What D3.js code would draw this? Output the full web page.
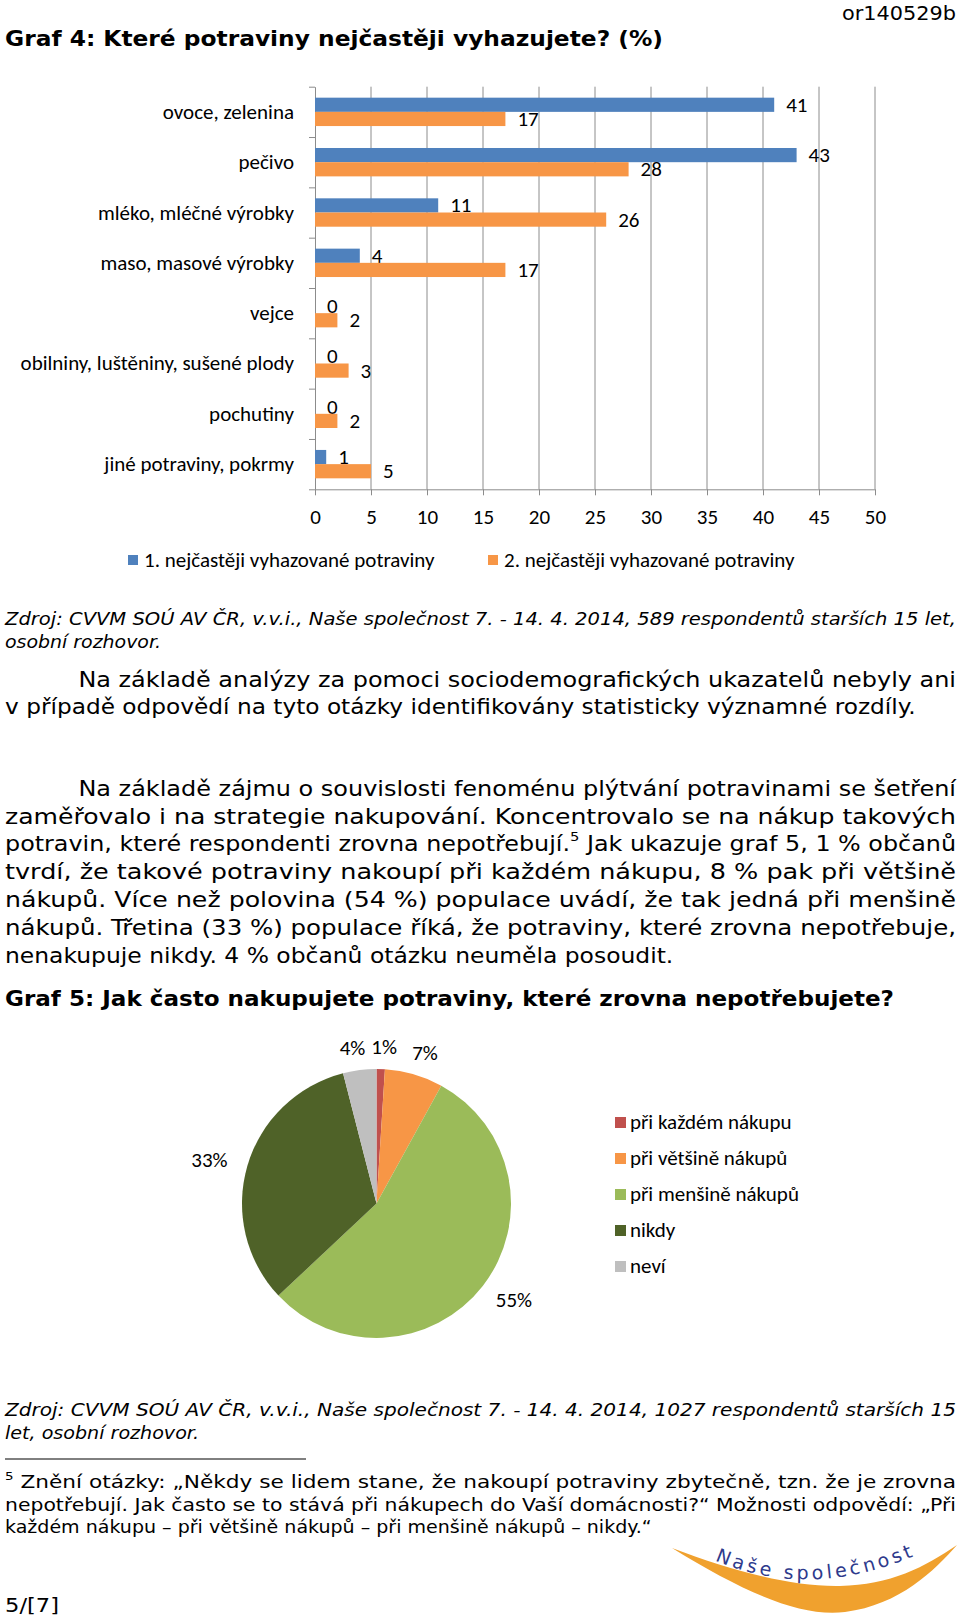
<!DOCTYPE html>
<html><head><meta charset="utf-8">
<script src="https://cdn.jsdelivr.net/npm/d3@7"></script>
<style>body{margin:0;background:#fff} svg{display:block}</style>
</head><body>
<svg id="c" width="960" height="1617"></svg>
<script>
// ---------- data ----------
const categories = ["ovoce, zelenina","pečivo","mléko, mléčné výrobky","maso, masové výrobky","vejce","obilniny, luštěniny, sušené plody","pochutiny","jiné potraviny, pokrmy"];
const seriesNames = ["1. nejčastěji vyhazované potraviny","2. nejčastěji vyhazované potraviny"];
const firstValues = [41,43,11,4,0,0,0,1];
const secondValues = [17,28,26,17,2,3,2,5];
const xTickValues = [0,5,10,15,20,25,30,35,40,45,50];
const barColors = ["#4F81BD","#F79646"];

const pieCategories = ["při každém nákupu","při většině nákupů","při menšině nákupů","nikdy","neví"];
const pieValues = [1,7,55,33,4];
const pieColors = ["#C0504D","#F79646","#9BBB59","#4F6228","#BFBFBF"];

// ---------- helpers ----------
const svg = d3.select("#c");
const CHART_FONT = "Carlito, Lato, sans-serif";
const BODY_FONT = "'DejaVu Sans', Verdana, sans-serif";
const CF = 21;

function line(segs, x1, x2, yc, opt) {
  const t = svg.append("text")
    .attr("x", x1).attr("y", yc)
    .attr("dominant-baseline", "central")
    .attr("font-family", BODY_FONT)
    .attr("font-size", opt.size)
    .attr("font-weight", opt.bold ? "bold" : "normal")
    .attr("font-style", opt.italic ? "italic" : "normal")
    .attr("fill", "#000")
    .attr("textLength", x2 - x1)
    .attr("lengthAdjust", "spacingAndGlyphs");
  (typeof segs === "string" ? [segs] : segs).forEach(s => {
    if (typeof s === "string") t.append("tspan").text(s);
    else t.append("tspan").attr("baseline-shift", "super").attr("font-size", opt.size * 0.62).text(s.sup);
  });
  return t;
}

// ---------- header ----------
line("or140529b", 842, 956, 13, {size: 20});
line("Graf 4: Které potraviny nejčastěji vyhazujete? (%)", 5, 663, 38, {size: 22, bold: true});

// ---------- bar chart ----------
const plotTop = 86.7, plotBottom = 489.3, plotLeft = 315, plotRight = 875;
const x = d3.scaleLinear().domain([0, 50]).range([plotLeft, plotRight]);
const y = d3.scaleBand().domain(categories).range([plotTop, plotBottom]).paddingInner(0.436).paddingOuter(0.218);
const ySub = d3.scaleBand().domain([0, 1]).range([0, y.bandwidth()]);
const gridColor = "#8C8C8C";

const bc = svg.append("g");
bc.append("g").selectAll("line").data(xTickValues.slice(1)).join("line")
  .attr("x1", d => x(d)).attr("x2", d => x(d))
  .attr("y1", plotTop).attr("y2", plotBottom)
  .attr("stroke", gridColor).attr("stroke-width", 1);

const xAxis = bc.append("g").attr("transform", `translate(0,${plotBottom})`)
  .call(d3.axisBottom(x).tickValues(xTickValues).tickSize(6).tickSizeOuter(0));
xAxis.select(".domain").attr("stroke", gridColor);
xAxis.selectAll(".tick line").attr("stroke", gridColor);
xAxis.selectAll(".tick text").attr("y", 27.4).attr("dy", "0.35em")
  .attr("font-family", CHART_FONT).attr("font-size", CF).attr("fill", "#000");

const yLin = d3.scaleLinear().domain([0, categories.length]).range([plotTop, plotBottom]);
const yAxis = bc.append("g").attr("transform", `translate(${plotLeft},0)`)
  .call(d3.axisLeft(yLin).tickValues(d3.range(categories.length + 1)).tickFormat("").tickSize(6).tickSizeOuter(0));
yAxis.select(".domain").attr("stroke", gridColor);
yAxis.selectAll(".tick line").attr("stroke", gridColor);

bc.append("g").selectAll("text").data(categories).join("text")
  .attr("x", plotLeft - 21).attr("y", d => y(d) + y.bandwidth() / 2)
  .attr("text-anchor", "end").attr("dominant-baseline", "central")
  .attr("font-family", CHART_FONT).attr("font-size", CF).attr("fill", "#000")
  .text(d => d);

[firstValues, secondValues].forEach((vals, si) => {
  const g = bc.append("g");
  g.selectAll("rect").data(vals).join("rect")
    .attr("x", x(0)).attr("y", (d, i) => y(categories[i]) + ySub(si))
    .attr("width", d => x(d) - x(0)).attr("height", ySub.bandwidth())
    .attr("fill", barColors[si]);
  g.selectAll("text").data(vals).join("text")
    .attr("x", d => x(d) + 12).attr("y", (d, i) => y(categories[i]) + ySub(si) + ySub.bandwidth() / 2)
    .attr("dominant-baseline", "central")
    .attr("font-family", CHART_FONT).attr("font-size", CF).attr("fill", "#000")
    .text(d => d);
});

// legend
const legX = [128, 488];
seriesNames.forEach((n, i) => {
  svg.append("rect").attr("x", legX[i]).attr("y", 555).attr("width", 10).attr("height", 10).attr("fill", barColors[i]);
  svg.append("text").attr("x", legX[i] + 16).attr("y", 560).attr("dominant-baseline", "central")
    .attr("font-family", CHART_FONT).attr("font-size", CF).attr("fill", "#000").text(n);
});

// ---------- text ----------
const src = {size: 18, italic: true};
line("Zdroj: CVVM SOÚ AV ČR, v.v.i., Naše společnost 7. - 14. 4. 2014, 589 respondentů starších 15 let,", 5, 956, 618, src);
line("osobní rozhovor.", 5, 161, 641, src);

const body = {size: 21};
line("Na základě analýzy za pomoci sociodemografických ukazatelů nebyly ani", 78.4, 956, 679.5, body);
line("v případě odpovědí na tyto otázky identifikovány statisticky významné rozdíly.", 5, 915.6, 707.3, body);

const p2 = [
  [["Na základě zájmu o souvislosti fenoménu plýtvání potravinami se šetření"], 78.4, 956],
  [["zaměřovalo i na strategie nakupování. Koncentrovalo se na nákup takových"], 5, 956],
  [["potravin, které respondenti zrovna nepotřebují.", {sup: "5"}, " Jak ukazuje graf 5, 1 % občanů"], 5, 956],
  [["tvrdí, že takové potraviny nakoupí při každém nákupu, 8 % pak při většině"], 5, 956],
  [["nákupů. Více než polovina (54 %) populace uvádí, že tak jedná při menšině"], 5, 956],
  [["nákupů. Třetina (33 %) populace říká, že potraviny, které zrovna nepotřebuje,"], 5, 956],
  [["nenakupuje nikdy. 4 % občanů otázku neuměla posoudit."], 5, 673.3]
];
p2.forEach((l, i) => line(l[0], l[1], l[2], 788.8 + i * 27.83, body));

line("Graf 5: Jak často nakupujete potraviny, které zrovna nepotřebujete?", 5, 894, 998, {size: 22, bold: true});

// ---------- pie ----------
const cx = 376.5, cy = 1203.5, R = 134.5;
const pie = d3.pie().sort(null).value(d => d)(pieValues);
const arc = d3.arc().innerRadius(0).outerRadius(R);
const pg = svg.append("g").attr("transform", `translate(${cx},${cy})`);
pg.selectAll("path").data(pie).join("path").attr("d", arc).attr("fill", (d, i) => pieColors[i]);
const labelRy = 157, labelRx = 174;
const labels = pg.selectAll("text").data(pie).join("text")
  .attr("text-anchor", "middle").attr("dominant-baseline", "central")
  .attr("font-family", CHART_FONT).attr("font-size", CF).attr("fill", "#000")
  .text(d => d.data + "%")
  .each(function(d) {
    const a = (d.startAngle + d.endAngle) / 2;
    d.lx = Math.sin(a) * labelRx; d.ly = -Math.cos(a) * labelRy;
    d.w = this.getComputedTextLength();
  });
// simple collision resolution for labels on the same row
const ld = labels.data().slice().sort((a, b) => a.lx - b.lx);
const gap = 6;
for (let it = 0; it < 20; it++) {
  for (let k = 0; k < ld.length - 1; k++) {
    const a = ld[k], b = ld[k + 1];
    if (Math.abs(a.ly - b.ly) > 4) continue;
    const need = (a.w + b.w) / 2 + gap - (b.lx - a.lx);
    if (need > 0) { a.lx -= need / 2; b.lx += need / 2; }
  }
}
labels.attr("x", d => d.lx).attr("y", d => d.ly);

pieCategories.forEach((n, i) => {
  const yy = 1122 + i * 36;
  svg.append("rect").attr("x", 615).attr("y", yy - 5).attr("width", 11).attr("height", 11).attr("fill", pieColors[i]);
  svg.append("text").attr("x", 630).attr("y", yy).attr("dominant-baseline", "central")
    .attr("font-family", CHART_FONT).attr("font-size", CF).attr("fill", "#000").text(n);
});

// ---------- source 2 + footnote ----------
line("Zdroj: CVVM SOÚ AV ČR, v.v.i., Naše společnost 7. - 14. 4. 2014, 1027 respondentů starších 15", 5, 956, 1408.5, src);
line("let, osobní rozhovor.", 5, 199, 1432, src);
svg.append("line").attr("x1", 5).attr("x2", 306).attr("y1", 1459).attr("y2", 1459).attr("stroke", "#000").attr("stroke-width", 1);
const foot = {size: 17};
line([{sup: "5"}, " Znění otázky: „Někdy se lidem stane, že nakoupí potraviny zbytečně, tzn. že je zrovna"], 5, 956, 1482, foot);
line("nepotřebují. Jak často se to stává při nákupech do Vaší domácnosti?“ Možnosti odpovědí: „Při", 5, 956, 1504.6, foot);
line("každém nákupu – při většině nákupů – při menšině nákupů – nikdy.“", 5, 651.7, 1527.2, foot);

// ---------- logo ----------
svg.append("path")
  .attr("d", "M672,1548 C740,1590 800,1618 845,1612 C900,1605 935,1570 957,1545 C925,1567 890,1585 840,1586 C790,1587 730,1570 672,1548 Z")
  .attr("fill", "#F0A12E");
svg.append("path").attr("id", "logoArc").attr("d", "M712,1559 Q812,1604 928,1550").attr("fill", "none");
svg.append("text").attr("font-family", BODY_FONT).attr("font-size", 19).attr("fill", "#2E3A8C")
  .attr("letter-spacing", 3.5)
  .append("textPath").attr("href", "#logoArc").attr("startOffset", 3).text("Naše společnost");

line("5/[7]", 5, 59, 1604.5, {size: 20});
</script>
</body></html>
